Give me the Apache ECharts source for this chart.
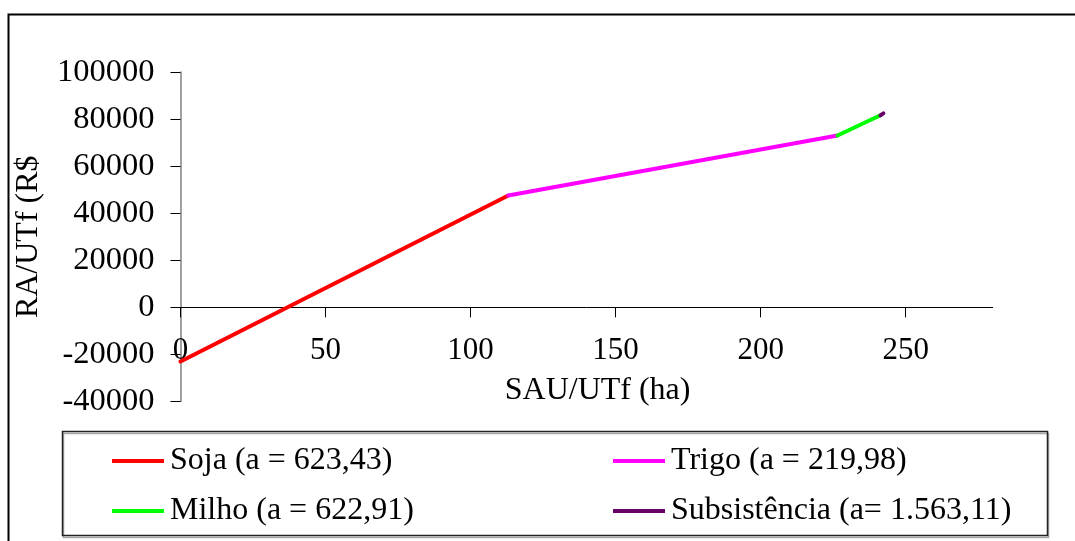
<!DOCTYPE html>
<html>
<head>
<meta charset="utf-8">
<script src="https://cdn.jsdelivr.net/npm/echarts@6/dist/echarts.min.js"></script>
<style>
html,body{margin:0;padding:0;background:#fff;}
#chart{width:1075px;height:541px;}
</style>
</head>
<body>
<div id="chart"></div>
<script>
// ---- data ----
const seriesNames = ['Soja (a = 623,43)', 'Trigo (a = 219,98)', 'Milho (a = 622,91)', 'Subsistência (a= 1.563,11)'];
const seriesColors = ['#ff0000', '#ff00ff', '#00ff00', '#660066'];
const sojaData = [[0, -23000], [113, 47500]];
const trigoData = [[113, 47500], [226.5, 73000]];
const milhoData = [[226.5, 73000], [241.3, 81600]];
const subsistenciaData = [[241.3, 81600], [242.3, 82400]];
const xTicks = [0, 50, 100, 150, 200, 250];
const yTicks = [-40000, -20000, 0, 20000, 40000, 60000, 80000, 100000];
const xTitle = 'SAU/UTf (ha)';
const yTitle = 'RA/UTf (R$';

const allData = [sojaData, trigoData, milhoData, subsistenciaData];
const FONT = 'Liberation Serif';
const FS = 31;
const YFS = 32.5;
const LFS = 32;

const chart = echarts.init(document.getElementById('chart'), null, {renderer: 'canvas'});
chart.setOption({
  animation: false,
  backgroundColor: '#ffffff',
  grid: {left: 180.5, right: 82.3, top: 72, bottom: 139.5, containLabel: false},
  xAxis: {
    type: 'value',
    min: 0, max: 280, interval: 50,
    name: xTitle,
    nameLocation: 'middle',
    nameGap: -27,
    nameTextStyle: {fontFamily: FONT, fontSize: LFS, color: '#000', padding: [0, 0, 0, 22]},
    axisLine: {onZero: true, lineStyle: {color: '#000', width: 1}},
    axisTick: {show: true, inside: false, length: 10, lineStyle: {color: '#000'}, customValues: xTicks},
    axisLabel: {fontFamily: FONT, fontSize: FS, color: '#000', margin: -66, customValues: xTicks,
      formatter: v => String(v)},
    splitLine: {show: false}
  },
  yAxis: {
    type: 'value',
    min: -40000, max: 100000, interval: 20000,
    name: yTitle,
    nameLocation: 'middle',
    nameRotate: 90,
    nameGap: 136,
    nameTextStyle: {fontFamily: FONT, fontSize: 32, color: '#000'},
    axisLine: {show: true, lineStyle: {color: '#808080', width: 1.5}},
    axisTick: {show: true, inside: false, length: 10, lineStyle: {color: '#000'}, customValues: yTicks},
    axisLabel: {fontFamily: FONT, fontSize: YFS, color: '#000', margin: 26, customValues: yTicks,
      formatter: v => String(v)},
    splitLine: {show: false}
  },
  legend: [
    {
      orient: 'vertical', left: 107, top: 440, itemGap: 18,
      icon: 'rect', itemWidth: 52, itemHeight: 4,
      data: [seriesNames[0], seriesNames[2]],
      textStyle: {fontFamily: FONT, fontSize: LFS, color: '#000', lineHeight: 32, padding: [0, 0, 0, 1]}
    },
    {
      orient: 'vertical', left: 608, top: 440, itemGap: 18,
      icon: 'rect', itemWidth: 52, itemHeight: 4,
      data: [seriesNames[1], seriesNames[3]],
      textStyle: {fontFamily: FONT, fontSize: LFS, color: '#000', lineHeight: 32, padding: [0, 0, 0, 1]}
    }
  ],
  graphic: [
    {type: 'rect', silent: true, z: -1, shape: {x: 8.5, y: 14.5, width: 1200, height: 700},
      style: {fill: 'none', stroke: '#000', lineWidth: 2}},
    {type: 'rect', silent: true, z: -1, shape: {x: 62.5, y: 431.5, width: 985, height: 104},
      style: {fill: 'none', stroke: '#222', lineWidth: 1.5, shadowColor: 'rgba(0,0,0,0.35)', shadowOffsetX: 1, shadowOffsetY: 2, shadowBlur: 0}}
  ],
  series: seriesNames.map((n, i) => ({
    name: n,
    type: 'line',
    data: allData[i],
    showSymbol: false,
    symbol: 'none',
    color: seriesColors[i],
    lineStyle: {color: seriesColors[i], width: 4, cap: 'round'},
    z: 3 + i
  }))
});
</script>
</body>
</html>
